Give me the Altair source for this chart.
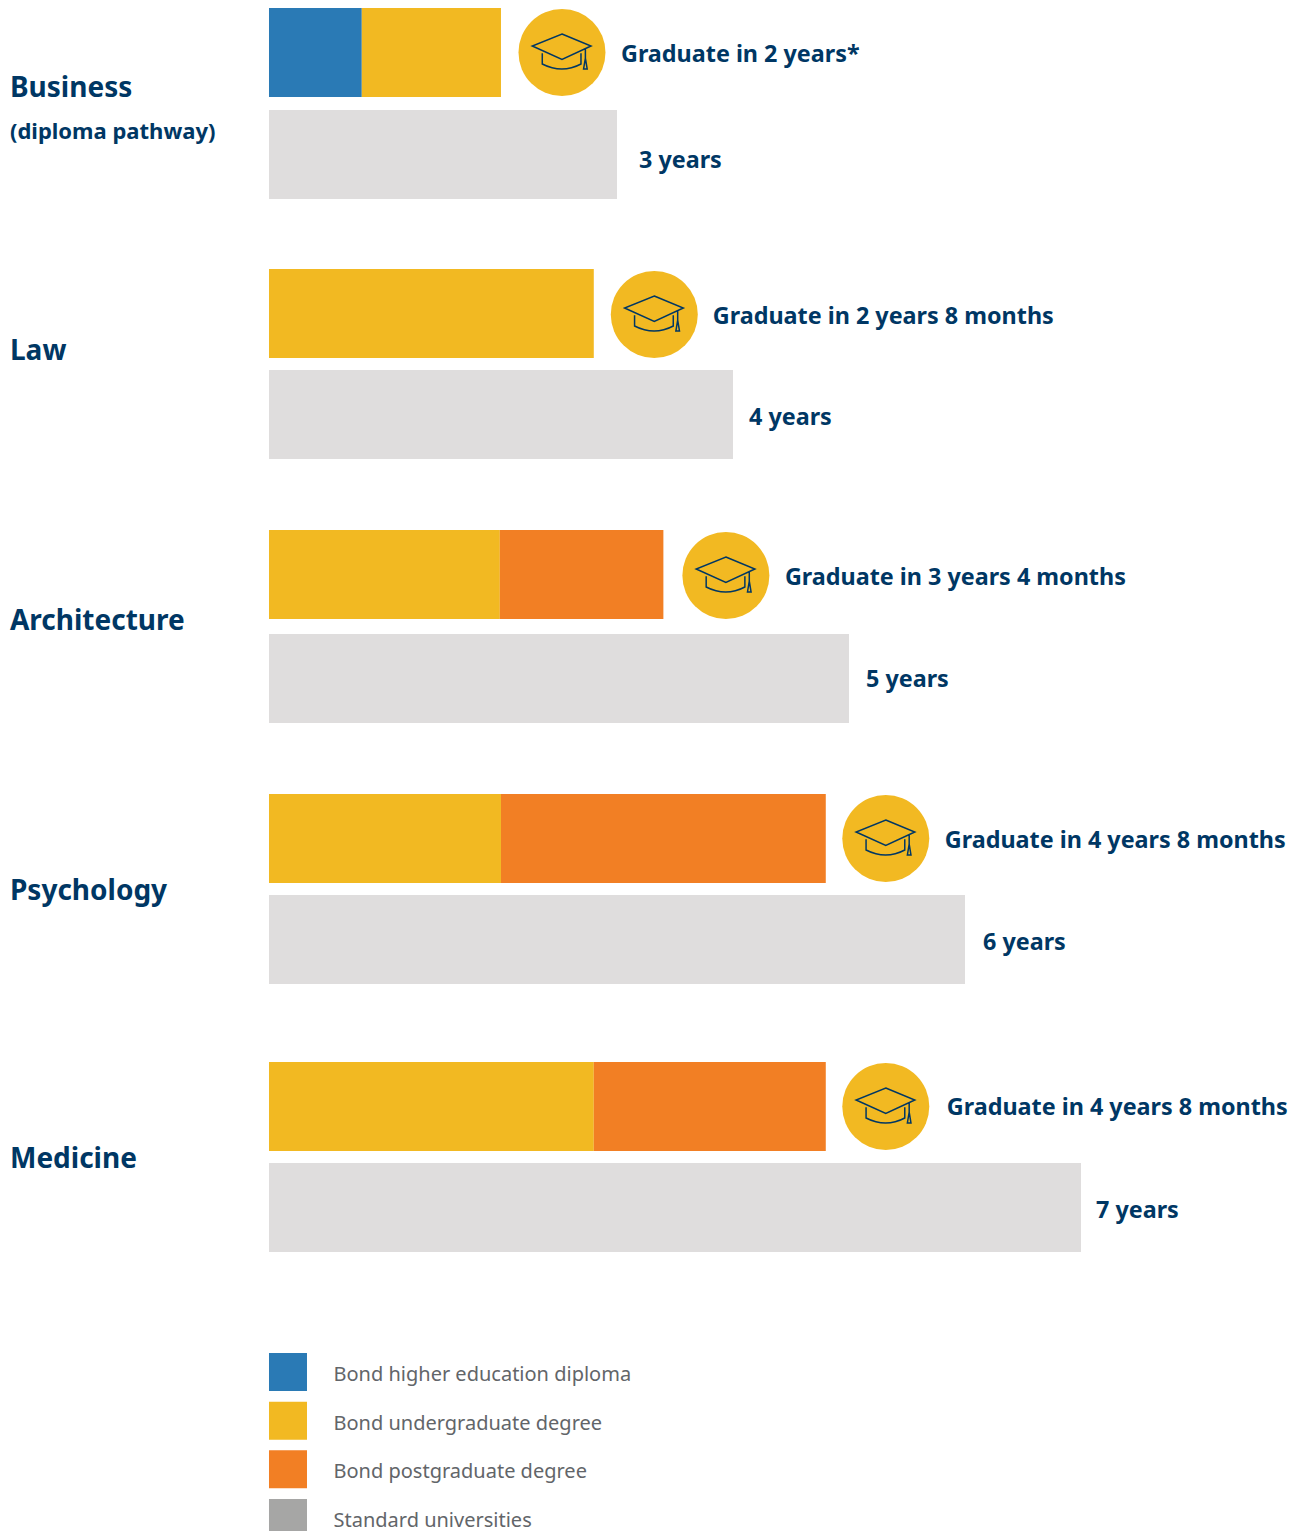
import altair as alt
import pandas as pd

# --- data (years) -----------------------------------------------------------
SEGMENTS = ["Bond higher education diploma", "Bond undergraduate degree",
            "Bond postgraduate degree", "Standard universities"]
COURSES = ["Business", "Law", "Architecture", "Psychology", "Medicine"]
SUBTITLES = ["(diploma pathway)", "", "", "", ""]
DIPLOMA = [0.8, 0, 0, 0, 0]
UNDERGRAD = [1.2, 2.8, 1.99, 2.0, 2.8]
POSTGRAD = [0, 0, 1.41, 2.8, 2.0]
STANDARD = [3, 4, 5, 6, 7]
BOND_LABELS = ["Graduate in 2 years*", "Graduate in 2 years 8 months",
               "Graduate in 3 years 4 months", "Graduate in 4 years 8 months",
               "Graduate in 4 years 8 months"]
STANDARD_LABELS = ["3 years", "4 years", "5 years", "6 years", "7 years"]

# --- layout / style ---------------------------------------------------------
PANEL_H = [261, 261, 264, 268, 291]
ROW_STEP = [102, 101, 104, 101, 101]
BAR_H = 89
CIRCLE_DX = [61, 60.5, 62.5, 60, 60]
CIRCLE_DY = [0, 1, 1, 0, 0]
BOND_TEXT_DX = [120, 119, 121.5, 119, 121]
BOND_TEXT_DY = [2.5, 3.5, 3.5, 2.5, 1.5]
STD_TEXT_DX = [22, 16, 17, 18, 15]
STD_TEXT_DY = [6, 3, 1, 3, 3]
NAME_DY = [-65.5, -62.5, -56.5, -47.5, -47.5]
XDOM = [-2.25, 8.802]
NAME_X = -2.233
PX_PER_YEAR = 116
SWATCH = 38
LEGEND_STEP = 48.7
NAVY = "#003764"
COLORS = ["#2a7ab5", "#f2b922", "#f27f24", "#a6a6a5"]
GREY = "#dfdddd"
FONT = "Noto Sans"
HAT = ("M0 -.617L.967 -.217L0 .227L-.99 -.217Z"
       "M-.657 .027L-.657 .383Q0 .72 .633 .383L.633 .027"
       "M.78 -.14L.78 .19M.78 .19L.72 .55L.84 .55Z")

x_scale = alt.Scale(domain=XDOM, nice=False, zero=False)
x_enc = alt.X("start:Q", axis=None, scale=x_scale)
color_scale = alt.Scale(domain=SEGMENTS, range=COLORS)


def panel(i):
    step = ROW_STEP[i]
    inner = 1 - BAR_H / step
    outer = max(0, (PANEL_H[i] / step - 2 + inner) / 2)
    y_enc = alt.Y("row:N", axis=None,
                  scale=alt.Scale(domain=["Bond", "Standard"], paddingInner=inner,
                                  paddingOuter=outer, align=0))
    a, b, c = DIPLOMA[i], UNDERGRAD[i], POSTGRAD[i]
    total = a + b + c
    segs = pd.DataFrame([
        {"row": "Bond", "segment": SEGMENTS[0], "start": 0, "end": a},
        {"row": "Bond", "segment": SEGMENTS[1], "start": a, "end": a + b},
        {"row": "Bond", "segment": SEGMENTS[2], "start": a + b, "end": total},
    ])
    segs = segs[segs["end"] > segs["start"]]
    std = pd.DataFrame([{"row": "Standard", "start": 0, "end": STANDARD[i],
                         "label": STANDARD_LABELS[i]}])
    tip = pd.DataFrame([{"row": "Bond", "start": total, "label": BOND_LABELS[i]}])
    names = pd.DataFrame([{"row": "Standard", "start": NAME_X, "label": COURSES[i]}])

    bars = alt.Chart(segs).mark_bar(cornerRadius=0).encode(
        x=x_enc, x2="end:Q", y=y_enc,
        color=alt.Color("segment:N", scale=color_scale, legend=None))
    std_bar = alt.Chart(std).mark_bar(color=GREY).encode(x=x_enc, x2="end:Q", y=y_enc)
    circle = alt.Chart(tip).mark_circle(size=7569, color=COLORS[1], opacity=1,
                                        xOffset=CIRCLE_DX[i], yOffset=CIRCLE_DY[i]).encode(x=x_enc, y=y_enc)
    hat = alt.Chart(tip).mark_point(shape=HAT, size=3600, filled=False, stroke=NAVY, opacity=1,
                                    strokeWidth=1.5, xOffset=CIRCLE_DX[i],
                                    yOffset=CIRCLE_DY[i]).encode(x=x_enc, y=y_enc)
    txt = dict(font=FONT, fontWeight="bold", color=NAVY, align="left", baseline="middle")
    bond_t = alt.Chart(tip).mark_text(fontSize=23.35, dx=BOND_TEXT_DX[i], dy=BOND_TEXT_DY[i], **txt).encode(
        x=x_enc, y=y_enc, text="label:N")
    std_t = alt.Chart(std).mark_text(fontSize=23.35, dx=STD_TEXT_DX[i], dy=STD_TEXT_DY[i], **txt).encode(
        x=alt.X("end:Q", axis=None, scale=x_scale), y=y_enc, text="label:N")
    name_t = alt.Chart(names).mark_text(fontSize=28, dy=NAME_DY[i], **txt).encode(
        x=x_enc, y=y_enc, text="label:N")
    layers = [bars, std_bar, circle, hat, bond_t, std_t, name_t]
    if SUBTITLES[i]:
        sub = pd.DataFrame([{"row": "Standard", "start": NAME_X, "label": SUBTITLES[i]}])
        layers.append(alt.Chart(sub).mark_text(fontSize=22, dy=-22.5, **txt).encode(
            x=x_enc, y=y_enc, text="label:N"))
    return alt.layer(*layers).properties(width=1282, height=PANEL_H[i])


def key_panel():
    key = pd.DataFrame({"segment": SEGMENTS, "start": 0, "end": SWATCH / PX_PER_YEAR})
    y_key = alt.Y("segment:N", axis=None,
                  scale=alt.Scale(domain=SEGMENTS, paddingInner=1 - SWATCH / LEGEND_STEP,
                                  paddingOuter=0, align=0))
    h = int(round(LEGEND_STEP * 4 - (LEGEND_STEP - SWATCH)))
    swatches = alt.Chart(key).mark_bar().encode(
        x=x_enc, x2="end:Q", y=y_key,
        color=alt.Color("segment:N", scale=color_scale, legend=None))
    labels = alt.Chart(key).mark_text(font=FONT, fontSize=20, color="#626569", align="left",
                                      baseline="middle", dx=64.5, dy=3).encode(
        x=x_enc, y=y_key, text="segment:N")
    return alt.layer(swatches, labels).properties(width=1282, height=h)


chart = alt.vconcat(
    *[panel(i) for i in range(5)], key_panel(), spacing=0, bounds="flush"
).properties(padding=0, background="white").configure_view(stroke=None)

chart.save("out.html", embed_options={"renderer": "svg", "actions": False})
